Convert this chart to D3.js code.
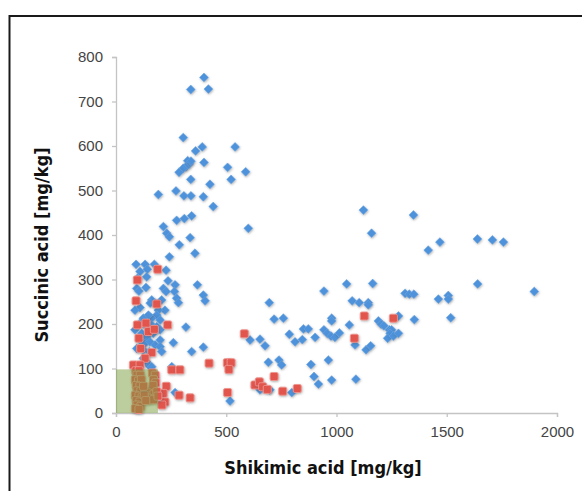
<!DOCTYPE html>
<html><head><meta charset="utf-8">
<script src="https://cdn.jsdelivr.net/npm/d3@7"></script>
<style>html,body{margin:0;padding:0;background:#fff;}svg{display:block;}</style>
</head><body>
<svg id="chart" width="582" height="491"></svg>
<script>
// ---- data ----
const xTicks = [0, 500, 1000, 1500, 2000];
const yTicks = [0, 100, 200, 300, 400, 500, 600, 700, 800];
const xTitle = "Shikimic acid [mg/kg]";
const yTitle = "Succinic acid [mg/kg]";
const zone = {x0: 0, x1: 190, y0: 0, y1: 98};

const bluePoints = [
 [399,754],[339,727],[419,728],[305,619],[540,598],[391,598],[361,589],[325,567],[332,560],[317,553],[305,550],[286,541],[340,566],[399,563],[506,552],[588,542],[339,525],[522,525],[426,514],[192,491],[272,499],[308,488],[340,488],[396,486],[441,464],[343,443],[310,437],[275,433],[600,415],[215,419],[230,404],[242,396],[336,394],[287,378],[358,359],[242,351],
 [369,288],[396,265],[404,252],[227,321],[236,297],[215,280],[227,273],[268,288],[265,273],[275,258],[283,248],[317,193],[260,158],[343,138],[396,148],[253,104],[268,46],[517,27],[222,231],
 [91,334],[132,334],[142,323],[109,318],[139,306],[174,334],[98,303],[94,280],[104,274],[136,282],[162,254],[155,247],[177,247],[109,237],[86,231],[207,254],[192,231],[185,220],[162,213],[147,220],[124,213],[109,202],[139,194],[162,198],[185,194],[200,209],[86,187],[117,179],[139,171],[169,179],[200,187],[109,164],[132,157],[154,160],[177,153],[200,164],[94,145],[124,142],[151,138],[200,149],[207,138],[124,123],[139,115],[151,106],[162,104],
 [1122,456],[1349,445],[1159,404],[1416,366],[1469,384],[1639,391],[1707,389],[1757,384],[1640,290],[1897,273],[1462,256],[1507,264],[1507,256],[1518,214],[1046,290],[1164,291],[943,274],[1311,269],[1330,267],[1351,267],[695,248],[1071,252],[1103,248],[1144,248],[1144,243],[717,211],[759,213],[978,213],[978,207],[1058,198],[1190,207],[1202,200],[1215,196],[1240,187],[1250,187],[1243,179],[1232,168],[1258,173],[1281,179],[1281,218],[1353,210],[850,189],[872,189],[812,160],[845,165],[786,177],[903,170],[943,187],[958,179],[975,173],[993,170],[1013,180],[1084,153],[1134,142],[1155,151],[653,166],[676,151],[608,164],[691,114],[739,119],[751,108],[884,109],[963,119],[898,82],[918,65],[978,74],[1088,76],[653,52],[698,52],[797,46]
];

const redPoints = [
 [189,323],[97,299],[91,252],[185,245],[97,198],[136,202],[147,183],[174,188],[234,198],[104,168],[112,145],[162,136],[132,123],[79,108],[109,108],[253,97],[290,97],[422,112],[505,113],[522,113],[512,98],[506,46],[582,178],[228,60],[214,44],[222,25],[286,40],[336,34],[208,18],[630,63],[650,70],[665,59],[686,53],[717,82],[756,49],[822,55],[1126,218],[1258,213],[1081,168],
 [90,95],[105,95],[95,85],[110,85],[88,75],[102,72],[115,75],[92,62],[108,60],[96,50],[112,48],[88,40],[104,38],[118,35],[92,28],[108,25],[96,18],[112,15],[88,10],[104,8],
 [165,90],[178,85],[170,75],[180,68],[168,62],[130,50],[145,45],[158,40],[172,42],[185,48],[140,35],[155,32],[170,30],[128,40],[190,38],[125,60],[135,28]
];

// ---- drawing ----
const svg = d3.select("#chart");
const x = d3.scaleLinear().domain([0, 2000]).range([116, 557]);
const y = d3.scaleLinear().domain([0, 800]).range([413, 57]);

const defs = svg.append("defs");
const f = defs.append("filter").attr("id","sh").attr("x","-50%").attr("y","-50%").attr("width","200%").attr("height","200%");
f.append("feDropShadow").attr("dx",0.6).attr("dy",1).attr("stdDeviation",0.9).attr("flood-color","#555").attr("flood-opacity",0.45);

// outer frame
svg.append("rect").attr("x",9.5).attr("y",16).attr("width",620).attr("height",520)
  .attr("fill","none").attr("stroke","#1a1a1a").attr("stroke-width",2);

// axes
const fmt = d3.format("d");
const xAxis = d3.axisBottom(x).tickValues(xTicks).tickFormat(fmt).tickSize(4).tickSizeOuter(4).tickPadding(9);
const yAxis = d3.axisLeft(y).tickValues(yTicks).tickFormat(fmt).tickSize(4).tickSizeOuter(4).tickPadding(9);
const gx = svg.append("g").attr("transform",`translate(0,${y(0)})`).call(xAxis);
const gy = svg.append("g").attr("transform",`translate(${x(0)},0)`).call(yAxis);
[gx,gy].forEach(g=>{
  g.selectAll("path,line").attr("stroke","#c4c4c4").attr("stroke-width",1.3);
  g.selectAll("text").attr("fill","#444").style("font-family","'Liberation Sans', Arial, sans-serif").style("font-size","15px");
});

const plot = svg.append("g");
const diamond = "M0,-4.4L4.4,0L0,4.4L-4.4,0Z";
plot.selectAll("path.b").data(bluePoints).join("path").attr("class","b")
  .attr("d",diamond).attr("transform",d=>`translate(${x(d[0])},${y(d[1])})`)
  .attr("fill","#4d92da").attr("stroke","#6aa6e4").attr("stroke-width",0.6).attr("filter","url(#sh)");
plot.selectAll("rect.r").data(redPoints).join("rect").attr("class","r")
  .attr("x",d=>x(d[0])-4).attr("y",d=>y(d[1])-4).attr("width",8).attr("height",8).attr("rx",1.5)
  .attr("fill","#e1544e").attr("stroke","#f0958f").attr("stroke-width",0.9).attr("filter","url(#sh)");

// green zone on top
svg.append("rect").attr("x",x(zone.x0)).attr("y",y(zone.y1)).attr("width",x(zone.x1)-x(zone.x0)).attr("height",y(zone.y0)-y(zone.y1))
  .attr("fill","#7a9e3c").attr("fill-opacity",0.5);

// titles
svg.append("text").attr("x",323).attr("y",474).attr("text-anchor","middle")
  .style("font-family","'DejaVu Sans Condensed','Liberation Sans Narrow',sans-serif").style("font-weight","bold").style("font-size","18px")
  .attr("fill","#111").text(xTitle);
svg.append("text").attr("transform","translate(48,245) rotate(-90)").attr("text-anchor","middle")
  .style("font-family","'DejaVu Sans Condensed','Liberation Sans Narrow',sans-serif").style("font-weight","bold").style("font-size","18px")
  .attr("fill","#111").text(yTitle);
</script>
</body></html>
